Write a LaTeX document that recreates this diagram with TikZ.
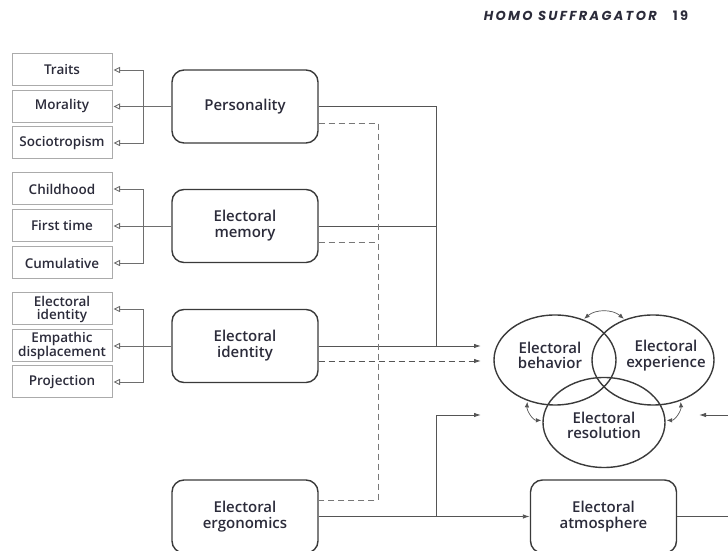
\documentclass[tikz,border=0pt]{standalone}
\usepackage{fontspec}
\usetikzlibrary{arrows.meta,shapes.geometric}
\setmainfont{Open Sans}
\IfFontExistsTF{Open Sans Semibold}{\newfontfamily\LblFont{Open Sans Semibold}}{%
  \IfFontExistsTF{Open Sans SemiBold}{\newfontfamily\LblFont{Open Sans SemiBold}}{%
    \newfontfamily\LblFont{Open Sans}[FakeBold=1.5]}}
\newfontfamily\HeadFont{Poppins}[LetterSpace=18]
\definecolor{ink}{HTML}{2B2B3A}
\definecolor{boxline}{HTML}{3A3A3A}
\definecolor{subline}{HTML}{ABABAB}
\definecolor{wire}{HTML}{555555}
\newcommand{\SubX}{62}
\newcommand{\ForkX}{143}
\newcommand{\JoinX}{436}
\newcommand{\DashX}{378}

\begin{document}
\begin{tikzpicture}[x=1pt,y=1pt,
  mainbox/.style={draw=boxline, line width=1.4pt, rounded corners=12pt, minimum width=146pt, minimum height=73pt, inner sep=0pt, align=center, text=ink, font=\LblFont\fontsize{15}{16}\selectfont},
  subbox/.style={draw=subline, line width=1pt, minimum width=100pt, minimum height=32pt, inner sep=0pt, align=center, text=ink, font=\LblFont\fontsize{13.5}{13}\selectfont},
  ring/.style={draw=boxline, line width=1.4pt, ellipse, minimum width=122pt, minimum height=90pt, inner sep=0pt},
  ringtext/.style={align=center, text=ink, font=\LblFont\fontsize{15}{15.5}\selectfont},
  subarrow/.style={draw=wire!85, line width=0.9pt, shorten >=1pt, -{Triangle[open,length=6.5pt,width=6pt]}},
  wireline/.style={draw=wire, line width=0.9pt},
  wirearrow/.style={wireline, -{Latex[length=7pt,width=4.5pt]}},
  dashline/.style={draw=wire!80, line width=0.9pt, dash pattern=on 6pt off 4pt},
  dasharrow/.style={dashline, draw=wire, -{Latex[length=7pt,width=4.5pt]}},
  bothways/.style={wireline, line width=0.7pt, shorten <=1pt, shorten >=1pt, {Latex[length=5.5pt,width=4.5pt]}-{Latex[length=5.5pt,width=4.5pt]}}
]
\useasboundingbox (0,0) rectangle (728,551);

% running head
\node[anchor=east, inner sep=0pt, text=ink, font=\HeadFont\bfseries\itshape\fontsize{13}{13}\selectfont] (runhead) at (657,535) {HOMO SUFFRAGATOR};
\node[inner sep=0pt, text=ink, font=\HeadFont\bfseries\fontsize{13}{13}\selectfont] (folio) at (680.5,535) {19};

% left column
\node[subbox] (traits) at (\SubX,481) {Traits};
\node[subbox] (moral) at (\SubX,444.5) {Morality};
\node[subbox] (socio) at (\SubX,408) {Sociotropism};
\node[subbox] (child) at (\SubX,362) {Childhood};
\node[subbox] (first) at (\SubX,325) {First time};
\node[subbox] (cumul) at (\SubX,288) {Cumulative};
\node[subbox] (elid) at (\SubX,242) {Electoral\\identity};
\node[subbox] (empath) at (\SubX,205) {Empathic\\displacement};
\node[subbox] (project) at (\SubX,169) {Projection};

% main boxes
\node[mainbox] (pers) at (245,444.5) {Personality};
\node[mainbox] (mem) at (245,325) {Electoral\\memory};
\node[mainbox] (ident) at (245,205) {Electoral\\identity};
\node[mainbox] (ergo) at (245,34.5) {Electoral\\ergonomics};
\node[mainbox] (atmo) at (603.5,34.5) {Electoral\\atmosphere};

% the three rings
\node[ring] (behav) at (555,191) {};
\node[ring] (exper) at (653,191) {};
\node[ring] (resol) at (604,128.5) {};
\node[ringtext] (behavT) at (550,195.5) {Electoral\\behavior};
\node[ringtext] (experT) at (666,195.5) {Electoral\\experience};
\node[ringtext] (resolT) at (604,125.5) {Electoral\\resolution};

% sub-dimensions
\draw[subarrow] (pers.west) -- (pers.west -| moral.east);
\coordinate (forkA) at (\ForkX,444.5);
\draw[subarrow] (forkA) |- (traits.east);
\draw[subarrow] (forkA) |- (socio.east);
\draw[subarrow] (mem.west) -- (first.east);
\coordinate (forkB) at (\ForkX,325);
\draw[subarrow] (forkB) |- (child.east);
\draw[subarrow] (forkB) |- (cumul.east);
\draw[subarrow] (ident.west) -- (ident.west -| empath.east);
\coordinate (forkC) at (\ForkX,205);
\draw[subarrow] (forkC) |- (elid.east);
\draw[subarrow] (forkC) |- (project.east);

% solid links
\coordinate (solidIn) at (481,205);
\coordinate (joinA) at (\JoinX,205);
\draw[wireline] (pers.east) -| (joinA);
\draw[wireline] (mem.east) -- (mem.east -| joinA);
\draw[wirearrow] (ident.east) -- (solidIn);

% dashed links
\coordinate (dashIn) at (481,190);
\coordinate (dashTop) at (\DashX,428);
\coordinate (dashBot) at (\DashX,51);
\draw[dashline] ([yshift=-16.5pt]pers.east) -- (dashTop) -- (dashBot) -- ([yshift=16.5pt]ergo.east);
\draw[dashline] ([yshift=-16pt]mem.east) -- ([yshift=-16pt]mem.east -| dashTop);
\draw[dasharrow] ([yshift=-15pt]ident.east) -- (dashIn);

% bottom links
\coordinate (lowIn) at (481,136);
\coordinate (rightIn) at (699,136);
\coordinate (rightOut) at (740,34.5);
\draw[wirearrow] (ergo.east) -- (atmo.west);
\draw[wirearrow] (ergo.east -| joinA) |- (lowIn);
\draw[wireline] (atmo.east) -- (rightOut);
\draw[wirearrow] (rightOut |- rightIn) -- (rightIn);

% feedback between rings
\draw[bothways] (behav.55) to[bend left=40] (exper.125);
\draw[bothways] (behav.236) to[out=265, in=180] (resol.178);
\draw[bothways] (exper.304) to[out=275, in=0] (resol.2);
\end{tikzpicture}
\end{document}
